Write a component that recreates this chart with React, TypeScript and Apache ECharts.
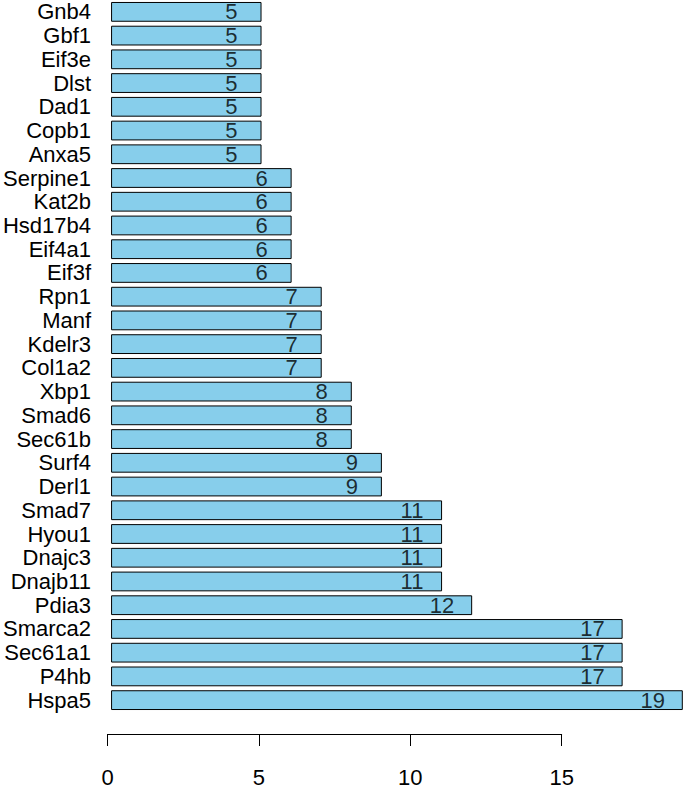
import React, { useEffect, useRef } from "react";
import * as echarts from "echarts";

const genes: string[] = [
  "Gnb4", "Gbf1", "Eif3e", "Dlst", "Dad1", "Copb1", "Anxa5",
  "Serpine1", "Kat2b", "Hsd17b4", "Eif4a1", "Eif3f",
  "Rpn1", "Manf", "Kdelr3", "Col1a2",
  "Xbp1", "Smad6", "Sec61b",
  "Surf4", "Derl1",
  "Smad7", "Hyou1", "Dnajc3", "Dnajb11",
  "Pdia3",
  "Smarca2", "Sec61a1", "P4hb",
  "Hspa5",
];
const counts: number[] = [
  5, 5, 5, 5, 5, 5, 5,
  6, 6, 6, 6, 6,
  7, 7, 7, 7,
  8, 8, 8,
  9, 9,
  11, 11, 11, 11,
  12,
  17, 17, 17,
  19,
];
const xTicks: number[] = [0, 5, 10, 15];

const FONT = "'Liberation Sans', Arial, Helvetica, sans-serif";

export default function App() {
  const ref = useRef<HTMLDivElement>(null);
  useEffect(() => {
    if (!ref.current) return;
    const chart = echarts.init(ref.current, undefined, { renderer: "svg" });
    const unit = (682.8 - 107.5) / 19;
    chart.setOption({
      animation: false,
      backgroundColor: "#ffffff",
      grid: [
        { left: 107.5, top: 0, width: unit * 19, height: 712, containLabel: false },
        { left: 107.5, top: 700, width: unit * 15, height: 39.3, containLabel: false },
      ],
      xAxis: [
        { gridIndex: 0, type: "value", min: 0, max: 19, show: false },
        {
          gridIndex: 1,
          type: "value",
          min: xTicks[0],
          max: xTicks[xTicks.length - 1],
          interval: 5,
          position: "bottom",
          axisLine: { show: true, lineStyle: { color: "#000", width: 1 } },
          axisTick: { show: true, length: 12, lineStyle: { color: "#000", width: 1 } },
          axisLabel: { show: true, fontSize: 22, color: "#000", fontFamily: FONT, margin: 32 },
          splitLine: { show: false },
        },
      ],
      yAxis: [
        {
          gridIndex: 0,
          type: "category",
          data: genes,
          inverse: true,
          axisLine: { show: false },
          axisTick: { show: false },
          axisLabel: { interval: 0, fontSize: 22, color: "#000", fontFamily: FONT, margin: 20 },
          splitLine: { show: false },
        },
        { gridIndex: 1, type: "value", show: false },
      ],
      series: [
        {
          type: "bar",
          xAxisIndex: 0,
          yAxisIndex: 0,
          data: counts,
          barCategoryGap: "16.7%",
          itemStyle: { color: "#87CEEB", borderColor: "#000", borderWidth: 1 },
          silent: true,
        },
        {
          type: "scatter",
          xAxisIndex: 0,
          yAxisIndex: 0,
          symbolSize: 0,
          data: counts.map((v, i) => [v - 1, genes[i], v]),
          label: {
            show: true,
            position: "inside",
            formatter: (p: any) => String(p.data[2]),
            fontSize: 22,
            color: "#000",
            fontFamily: FONT,
          },
          silent: true,
        },
      ],
    });
    return () => chart.dispose();
  }, []);
  return (
    <div
      ref={ref}
      style={{ position: "fixed", left: 0, top: 0, width: 685, height: 788, background: "#fff" }}
    />
  );
}
